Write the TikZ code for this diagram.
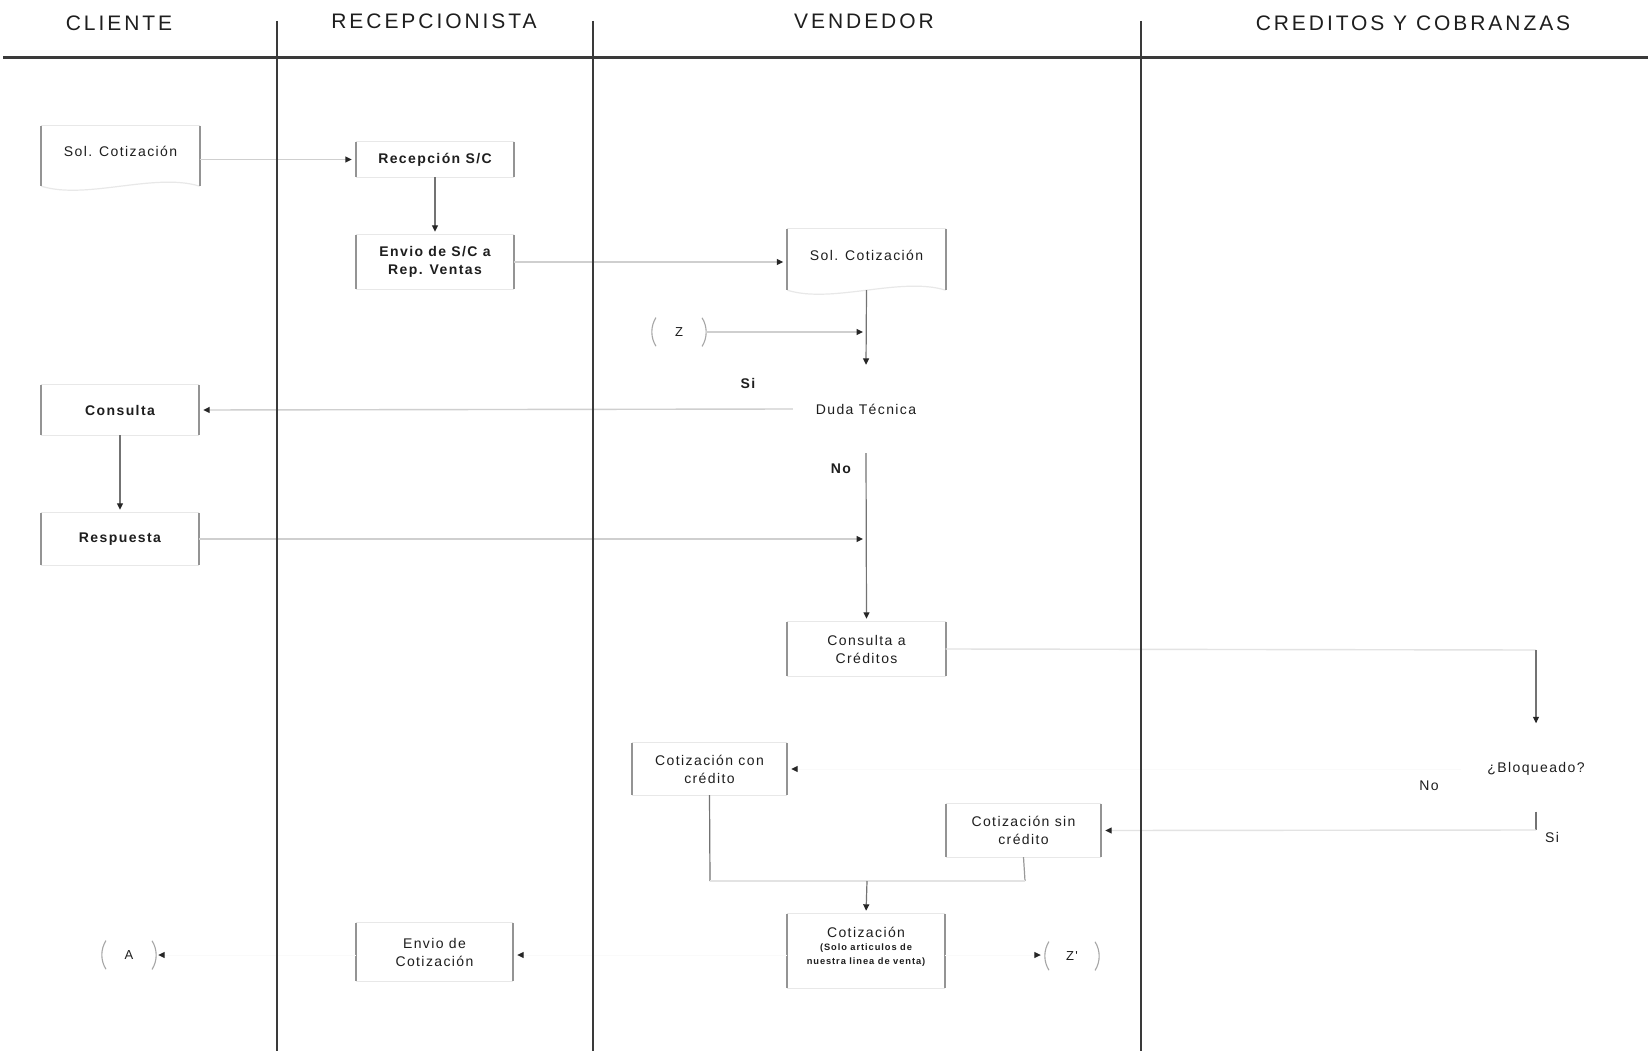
\documentclass[tikz,border=0pt]{standalone}
\usepackage{fontspec}
\newfontfamily\titlefont{Liberation Sans}[LetterSpace=14]
\newfontfamily\bodyfont{Liberation Sans}[LetterSpace=10]
\usetikzlibrary{arrows.meta}
\definecolor{ink}{HTML}{1E1E1E}
\definecolor{lane}{HTML}{3A3A3A}
\begin{document}
\begin{tikzpicture}[x=1pt,y=-1pt,
  title/.style={font=\titlefont\fontsize{21}{25}\selectfont, text=ink, inner sep=0pt},
  lbl/.style={font=\bodyfont\fontsize{14}{18}\selectfont, text=ink, inner sep=0pt, align=center},
  bold/.style={font=\bodyfont\bfseries\fontsize{14}{18}\selectfont},
  small/.style={font=\bodyfont\bfseries\fontsize{9.3}{14}\selectfont},
  sidebar/.style={draw=black!42, line width=1.7pt},
  rim/.style={draw=black!9, line width=1.2pt},
  box/.style={lbl, minimum width=158pt, append after command={
      (\tikzlastnode.north west) edge[rim] (\tikzlastnode.north east)
      (\tikzlastnode.south west) edge[rim] (\tikzlastnode.south east)
      (\tikzlastnode.north west) edge[sidebar] (\tikzlastnode.south west)
      (\tikzlastnode.north east) edge[sidebar] (\tikzlastnode.south east)}},
  docbox/.style={lbl, minimum width=158pt, text depth=9pt, append after command={
      (\tikzlastnode.north west) edge[rim] (\tikzlastnode.north east)
      (\tikzlastnode.south west) edge[rim, to path={.. controls +(45,14) and +(-45,-14) .. (\tikztotarget)}] (\tikzlastnode.south east)
      (\tikzlastnode.north west) edge[sidebar] (\tikzlastnode.south west)
      (\tikzlastnode.north east) edge[sidebar] (\tikzlastnode.south east)}},
  paren/.style={draw=black!35, line width=1.1pt},
  conn/.style={circle, minimum size=54pt, inner sep=0pt, text=ink,
      font=\bodyfont\fontsize{13}{16}\selectfont, append after command={
      (\tikzlastnode.148) edge[paren, to path={arc[start angle=148, end angle=212, radius=27pt]}] (\tikzlastnode.212)
      (\tikzlastnode.-32) edge[paren, to path={arc[start angle=-32, end angle=32, radius=27pt]}] (\tikzlastnode.32)}},
  tip/.style={-{Triangle[length=6.5pt, width=6pt, color=black!85]}},
  hflow/.style={draw=black!19, line width=1.4pt, tip, shorten >=4pt},
  faintflow/.style={draw=black!11, line width=1.4pt, tip, shorten >=4pt},
  vflow/.style={draw=black!55, line width=1.2pt, tip, shorten >=3pt},
  ghost/.style={draw=black!2, line width=1pt, tip, shorten >=4pt},
  hline/.style={draw=black!11, line width=1.4pt},
  vline/.style={draw=black!55, line width=1.2pt}
]
\useasboundingbox (0,0) rectangle (1648,1051);
\fill[white] (0,0) rectangle (1648,1051);

% swimlane headers
\node[title] (tCli) at (119,23) {CLIENTE};
\node[title] (tRec) at (434,21) {RECEPCIONISTA};
\node[title] (tVen) at (864,21) {VENDEDOR};
\node[title] (tCre) at (1413,23) {CREDITOS Y COBRANZAS};

% process steps
\node[docbox, minimum height=60pt] (solC) at (120.5,156) {Sol. Cotización};
\node[box, bold, minimum height=35pt] (recep) at (435,159.5) {Recepción S/C};
\node[box, bold, minimum height=54pt] (envSC) at (435,262) {Envio de S/C a\\Rep. Ventas};
\node[docbox, minimum height=61pt] (solV) at (866.5,259.5) {Sol. Cotización};
\node[conn] (Z) at (679,332) {Z};
\node[lbl, minimum width=146pt, minimum height=88pt] (duda) at (866,409) {Duda Técnica};
\node[lbl, bold] (si1) at (748,383) {Si};
\node[lbl, bold] (no1) at (841,469) {No};
\node[box, bold, minimum height=50pt] (cons) at (120,410) {Consulta};
\node[box, bold, minimum height=52pt] (resp) at (120,539) {Respuesta};
\node[box, minimum height=54pt] (consCred) at (866.5,649) {Consulta a\\Créditos};
\node[box, minimum width=155pt, minimum height=52pt] (cotCon) at (709.5,769) {Cotización con\\crédito};
\node[lbl, minimum width=150pt, minimum height=85pt] (bloq) at (1536,769) {¿Bloqueado?};
\node[lbl] (no2) at (1429,786) {No};
\node[lbl] (si2) at (1552,837) {Si};
\node[box, minimum width=155pt, minimum height=53pt] (cotSin) at (1023.5,830.5) {Cotización sin\\crédito};
\node[box, minimum height=74pt] (cot) at (866,951) {};
\node[lbl] (cotT) at (866,932) {Cotización};
\node[lbl, small] (cotS) at (866,955) {(Solo articulos de\\nuestra linea de venta)};
\node[box, minimum width=157pt, minimum height=58pt] (envCot) at (434.5,952) {Envio de\\Cotización};
\node[conn] (A) at (129,955) {A};
\node[conn] (Zp) at (1072,956) {Z'};

% junction points
\coordinate (jZ) at (867,332);
\coordinate (jR) at (867,539);
\coordinate (cc) at (1536,650);
\coordinate (bs) at (1536,830);
\coordinate (jl) at (710,881);
\coordinate (jr) at (1025,881);
\coordinate (jm) at (867,881);
\coordinate (outY) at (0,955);

% flow
\draw[hflow] ([yshift=-3.5pt]solC.east) -- (recep.west);
\draw[vflow] (recep) -- (envSC);
\draw[hflow] (envSC.east) -- (envSC.east -| solV.west);
\draw[vflow, shorten >=0pt] (solV.south) -- (duda.north);
\draw[hflow] (Z.east) -- (jZ);
\draw[hflow] (duda.west) -- (cons.east);
\draw[vflow] (duda.south) -- (consCred.north);
\draw[vflow] (cons) -- (resp);
\draw[hflow] (resp.east) -- (jR);
\draw[hline] (consCred.east) -- (cc);
\draw[vflow] (cc) -- (bloq.north);
\draw[ghost] (bloq.west) -- (cotCon.east);
\draw[vline] (bloq.south) -- (bs);
\draw[faintflow] (bs) -- (cotSin.east);
\draw[vline] (cotCon.south) -- (jl);
\draw[vline, draw=black!40] (cotSin.south) -- (jr);
\draw[hline] (jl) -- (jr);
\draw[vflow] (jm) -- (cot.north);
\draw[ghost] (cot.west |- outY) -- (envCot.east |- outY);
\draw[ghost] (cot.east |- outY) -- (Zp.west |- outY);
\draw[ghost, shorten >=2pt] (envCot.west |- outY) -- (A.east);

% header rule and lane separators, drawn over the connectors they cross
\draw[draw=lane, line width=3pt] (3,58) -- (1648,58);
\foreach \x in {277,593,1141} \draw[draw=lane, line width=2.4pt] (\x,21) -- (\x,1051);
\end{tikzpicture}
\end{document}
